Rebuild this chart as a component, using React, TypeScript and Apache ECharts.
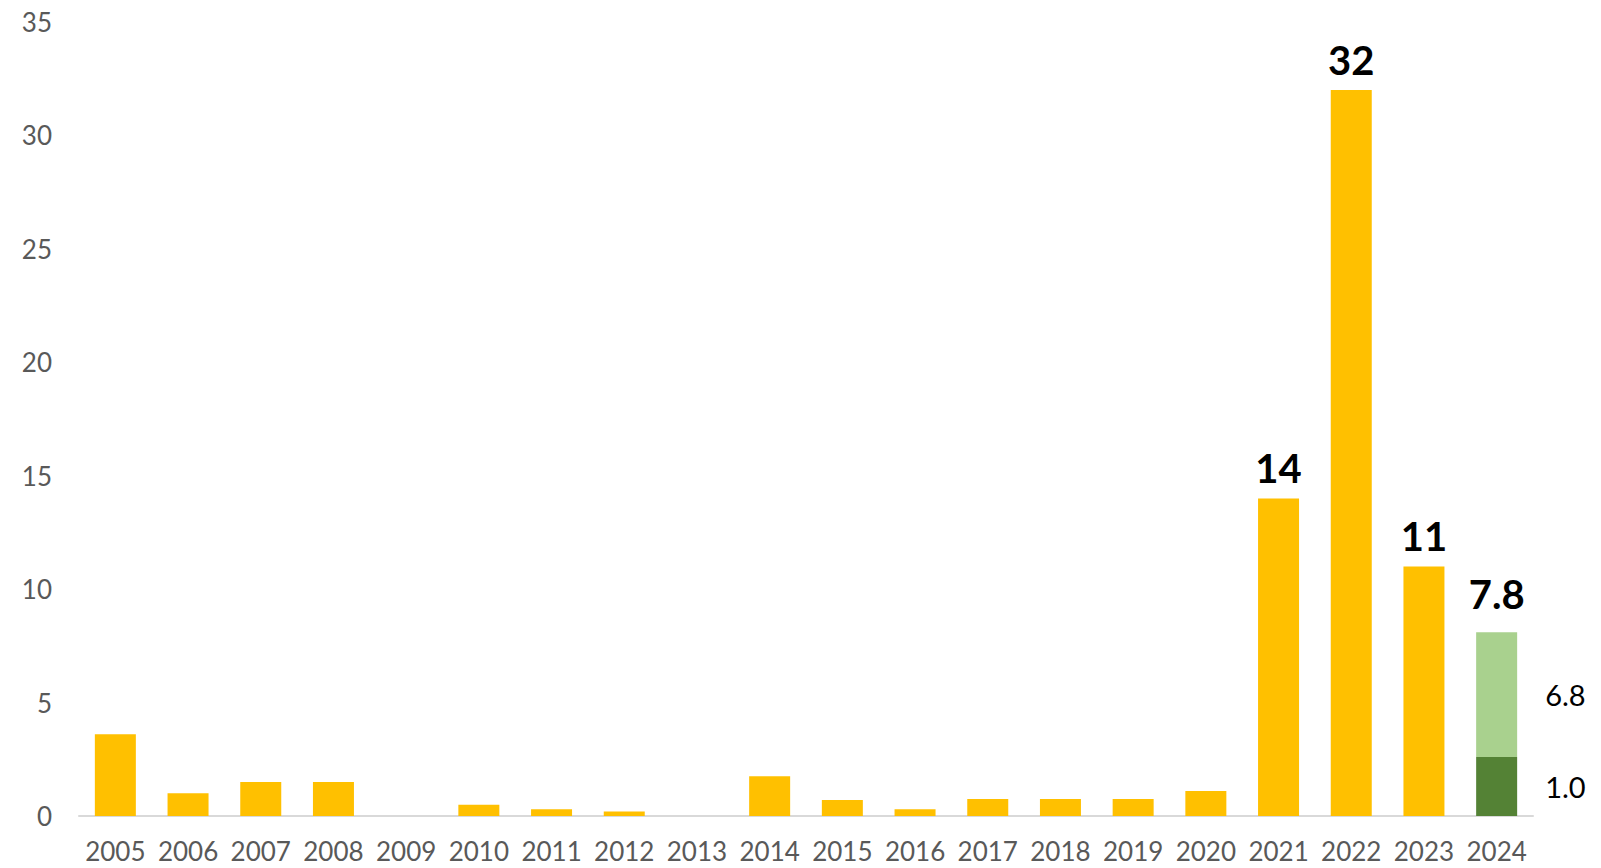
import React, { useEffect, useRef } from "react";
import * as echarts from "echarts";

const years = ["2005","2006","2007","2008","2009","2010","2011","2012","2013","2014","2015","2016","2017","2018","2019","2020","2021","2022","2023","2024"];
const mainValues = [3.6, 1.0, 1.5, 1.5, 0, 0.5, 0.3, 0.2, 0, 1.75, 0.7, 0.3, 0.75, 0.75, 0.75, 1.1, 14, 32, 11, null];
const mainLabels = ["", "", "", "", "", "", "", "", "", "", "", "", "", "", "", "", "14", "32", "11", ""];
const darkGreen2024 = 2.6;
const lightGreen2024 = 5.5;
const darkLabel = "1.0";
const lightLabel = "6.8";
const totalLabel = "7.8";
const yTicks = [0, 5, 10, 15, 20, 25, 30, 35];

export default function App() {
  const ref = useRef<HTMLDivElement>(null);
  useEffect(() => {
    if (!ref.current) return;
    const chart = echarts.init(ref.current, undefined, { renderer: "svg" });
    const last = years.length - 1;
    const only2024 = (v: number) => years.map((_, i) => (i === last ? v : null));
    const font = "Lato, 'DejaVu Sans', sans-serif";
    const bigLabel = {
      show: true,
      position: "top",
      distance: 10,
      color: "#000000",
      fontSize: 40,
      fontWeight: "bold",
      fontFamily: font,
    };
    const sideLabel = {
      show: true,
      position: "right",
      distance: 28,
      color: "#000000",
      fontSize: 29,
      fontFamily: font,
    };
    chart.setOption({
      animation: false,
      grid: { left: 79, right: 68, top: 22, bottom: 52, containLabel: false },
      xAxis: {
        type: "category",
        data: years,
        axisLine: { show: true, lineStyle: { color: "#d9d9d9", width: 2 } },
        axisTick: { show: false },
        axisLabel: { color: "#595959", fontSize: 26, fontFamily: font, margin: 22, interval: 0 },
      },
      yAxis: {
        type: "value",
        min: yTicks[0],
        max: yTicks[yTicks.length - 1],
        interval: 5,
        axisLine: { show: false },
        axisTick: { show: false },
        splitLine: { show: false },
        axisLabel: { color: "#595959", fontSize: 26, fontFamily: font, margin: 27 },
      },
      series: [
        {
          type: "bar",
          stack: "a",
          barWidth: 41,
          itemStyle: { color: "#FFC000" },
          data: mainValues.map((v, i) => ({
            value: v,
            label: mainLabels[i] ? { ...bigLabel, formatter: mainLabels[i] } : { show: false },
          })),
        },
        {
          type: "bar",
          stack: "a",
          barWidth: 41,
          itemStyle: { color: "#548235" },
          label: { ...sideLabel, formatter: () => darkLabel },
          data: only2024(darkGreen2024),
        },
        {
          type: "bar",
          stack: "a",
          barWidth: 41,
          itemStyle: { color: "#A9D18E" },
          label: { ...sideLabel, formatter: () => lightLabel },
          data: only2024(lightGreen2024),
        },
        {
          type: "bar",
          stack: "a",
          barWidth: 41,
          itemStyle: { color: "rgba(0,0,0,0)" },
          label: { ...bigLabel, distance: 18, formatter: () => totalLabel },
          data: only2024(0),
        },
      ],
    });
    return () => chart.dispose();
  }, []);
  return (
    <div
      ref={ref}
      style={{ position: "fixed", left: 0, top: 0, width: 1601, height: 868, background: "#ffffff" }}
    />
  );
}
